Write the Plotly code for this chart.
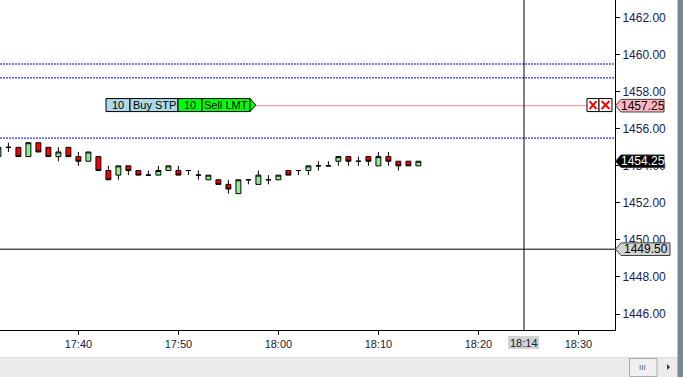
import plotly.graph_objects as go

DATE = "2013-03-20"
times = ["17:32", "17:33", "17:34", "17:35", "17:36", "17:37", "17:38", "17:39",
         "17:40", "17:41", "17:42", "17:43", "17:44", "17:45", "17:46", "17:47",
         "17:48", "17:49", "17:50", "17:51", "17:52", "17:53", "17:54", "17:55",
         "17:56", "17:57", "17:58", "17:59", "18:00", "18:01", "18:02", "18:03",
         "18:04", "18:05", "18:06", "18:07", "18:08", "18:09", "18:10", "18:11",
         "18:12", "18:13", "18:14"]
opens = [1454.5, 1455.0, 1455.0, 1454.5, 1455.25, 1455.0, 1454.5, 1455.0,
         1454.5, 1454.25, 1454.5, 1453.75, 1453.5, 1454.0, 1453.75, 1453.5,
         1453.5, 1453.75, 1453.75, 1453.75, 1453.5, 1453.25, 1453.25, 1453.0,
         1452.5, 1453.25, 1453.0, 1453.25, 1453.25, 1453.75, 1453.75, 1453.75,
         1454.0, 1454.0, 1454.25, 1454.5, 1454.25, 1454.5, 1454.0, 1454.5,
         1454.25, 1454.25, 1454.0]
highs = [1455.0, 1455.25, 1455.0, 1455.25, 1455.25, 1455.0, 1455.0, 1455.0,
         1454.75, 1454.75, 1454.5, 1454.0, 1454.0, 1454.0, 1453.75, 1453.75,
         1454.0, 1454.0, 1454.0, 1453.75, 1453.75, 1453.5, 1453.25, 1453.25,
         1453.25, 1453.25, 1453.75, 1453.5, 1453.5, 1453.75, 1453.75, 1454.0,
         1454.25, 1454.25, 1454.5, 1454.5, 1454.5, 1454.5, 1454.75, 1454.75,
         1454.25, 1454.25, 1454.25]
lows = [1454.5, 1454.75, 1454.5, 1454.5, 1454.75, 1454.5, 1454.25, 1454.5,
        1454.0, 1454.25, 1453.75, 1453.25, 1453.25, 1453.5, 1453.5, 1453.5,
        1453.5, 1453.75, 1453.5, 1453.5, 1453.25, 1453.25, 1453.0, 1452.5,
        1452.5, 1453.0, 1453.0, 1453.0, 1453.25, 1453.5, 1453.5, 1453.5,
        1453.75, 1454.0, 1454.0, 1454.0, 1454.0, 1454.0, 1454.0, 1454.0,
        1453.75, 1454.0, 1454.0]
closes = [1455.0, 1455.0, 1454.5, 1455.25, 1454.75, 1454.5, 1454.75, 1454.5,
          1454.25, 1454.75, 1453.75, 1453.25, 1454.0, 1453.75, 1453.5, 1453.5,
          1453.75, 1454.0, 1453.5, 1453.75, 1453.5, 1453.5, 1453.0, 1452.75,
          1453.25, 1453.25, 1453.5, 1453.25, 1453.5, 1453.5, 1453.75, 1454.0,
          1454.0, 1454.0, 1454.5, 1454.25, 1454.25, 1454.25, 1454.5, 1454.25,
          1454.0, 1454.0, 1454.25]

dashed_levels = [1459.50, 1458.75, 1455.50]
order_price = 1457.25
stop_price = 1449.50
last_price = closes[-1]
order_qty_buy, order_type_buy = "10", "Buy STP"
order_qty_sell, order_type_sell = "10", "Sell LMT"
cursor_label = "18:14"

X_RANGE = [f"{DATE} 17:32:09.6", f"{DATE} 18:33:39.6"]
Y_RANGE = [1445.137, 1462.956]
PLOT_W, PLOT_H = 615.0, 330.0
FONT = "Arial, Liberation Sans, sans-serif"

def px(x):
    return x / PLOT_W

def pyp(y):
    return 1 - y / PLOT_H

def dy(pixels):
    return pixels * (Y_RANGE[1] - Y_RANGE[0]) / PLOT_H

xs = [f"{DATE} {t}" for t in times]

fig = go.Figure()
fig.add_trace(go.Candlestick(
    x=xs, open=opens, high=highs, low=lows, close=closes,
    increasing=dict(line=dict(color="black", width=1), fillcolor="#90EE90"),
    decreasing=dict(line=dict(color="black", width=1), fillcolor="#FF0000"),
    whiskerwidth=0, hoverinfo="skip", showlegend=False,
))

shapes = []
annotations = []

def label(x, y, text, size=11, color="black", xref="paper", yref="y"):
    annotations.append(dict(xref=xref, yref=yref, x=x, y=y, text=text, showarrow=False,
                            xanchor="center", yanchor="middle",
                            font=dict(family=FONT, size=size, color=color)))

for lvl in dashed_levels:
    shapes.append(dict(type="line", xref="paper", yref="y", x0=0, x1=1, y0=lvl, y1=lvl,
                       line=dict(color="#0000FF", width=1, dash="2px,1px")))

# stop line
shapes.append(dict(type="line", xref="paper", yref="y", x0=0, x1=1, y0=stop_price, y1=stop_price,
                   line=dict(color="black", width=1)))
# order pink line
shapes.append(dict(type="line", xref="paper", yref="y", x0=px(256), x1=px(587),
                   y0=order_price, y1=order_price, line=dict(color="#FF9DB2", width=1.2)))
# crosshair vertical
shapes.append(dict(type="line", xref="paper", yref="paper", x0=px(524), x1=px(524), y0=0, y1=1,
                   line=dict(color="black", width=1)))

# order label boxes
oc = order_price + dy(0.6)
h = dy(6.5)
segs = [(106, 130, "#ADD8E6", order_qty_buy), (130, 178, "#ADD8E6", order_type_buy),
        (178, 202, "#00FF00", order_qty_sell), (202, 250, "#00FF00", order_type_sell)]
for x0, x1, col, txt in segs:
    shapes.append(dict(type="rect", xref="paper", yref="y", x0=px(x0), x1=px(x1),
                       y0=oc - h, y1=oc + h, fillcolor=col, line=dict(color="black", width=1)))
    label(px((x0 + x1) / 2), oc, txt, size=11)
shapes.append(dict(type="path", xref="paper", yref="y",
                   path=f"M {px(250)} {oc - h} L {px(256)} {oc} L {px(250)} {oc + h} Z",
                   fillcolor="#00FF00", line=dict(color="black", width=1)))

# X cancel boxes
for x0, x1 in [(587, 599), (599, 612)]:
    shapes.append(dict(type="rect", xref="paper", yref="y", x0=px(x0), x1=px(x1),
                       y0=oc - h, y1=oc + h, fillcolor="white", line=dict(color="black", width=1)))
    shapes.append(dict(type="line", xref="paper", yref="y", x0=px(x0 + 2.5), x1=px(x1 - 2.5),
                       y0=oc - h + dy(2.5), y1=oc + h - dy(2.5), line=dict(color="red", width=2)))
    shapes.append(dict(type="line", xref="paper", yref="y", x0=px(x0 + 2.5), x1=px(x1 - 2.5),
                       y0=oc + h - dy(2.5), y1=oc - h + dy(2.5), line=dict(color="red", width=2)))

# price tags on right axis
def price_tag(value, text, fill, fcolor, x_right=664):
    hh = dy(6.3)
    shapes.append(dict(type="path", xref="paper", yref="y",
                       path=(f"M {px(615.5)} {value} L {px(621)} {value + hh} L {px(x_right)} {value + hh} "
                             f"L {px(x_right)} {value - hh} L {px(621)} {value - hh} Z"),
                       fillcolor=fill, line=dict(color="#404040", width=1), layer="above"))
    label(px((621 + x_right) / 2 + 0.5), value, text, size=12, color=fcolor)

price_tag(order_price, f"{order_price:.2f}", "#FFB6C1", "#000000")
price_tag(last_price, f"{last_price:.2f}", "#000000", "#FFFFFF")
price_tag(stop_price, f"{stop_price:.2f}", "#D3D3D3", "#000000", x_right=670)

# cursor time label
shapes.append(dict(type="rect", xref="paper", yref="paper", x0=px(508), x1=px(539),
                   y0=pyp(349), y1=pyp(336), fillcolor="#D3D3D3", line=dict(width=0)))
label(px(523.5), pyp(342.5), cursor_label, size=11, color="#1A1A40", yref="paper")

# scrollbar + right gray strip
shapes.append(dict(type="rect", xref="paper", yref="paper", x0=px(-2), x1=px(686),
                   y0=pyp(357.5), y1=pyp(380), fillcolor="#EBEBEB", line=dict(width=0)))
shapes.append(dict(type="line", xref="paper", yref="paper", x0=px(0), x1=px(683),
                   y0=pyp(357.5), y1=pyp(357.5), line=dict(color="#DDDDDD", width=1)))
shapes.append(dict(type="rect", xref="paper", yref="paper", x0=px(629.5), x1=px(657),
                   y0=pyp(358.5), y1=pyp(376.5), fillcolor="#EFEFEF", line=dict(color="#ABABAB", width=1)))
label(px(643), pyp(367), "III", size=8, color="#555555", yref="paper")
shapes.append(dict(type="path", xref="paper", yref="paper",
                   path=f"M {px(667)} {pyp(364)} L {px(670)} {pyp(367)} L {px(667)} {pyp(370)} Z",
                   fillcolor="#333333", line=dict(width=0)))
shapes.append(dict(type="rect", xref="paper", yref="paper", x0=px(677.5), x1=px(686),
                   y0=pyp(-3), y1=pyp(380), fillcolor="#7A8694", line=dict(width=0)))

fig.update_layout(
    width=683, height=377,
    margin=dict(l=0, r=68, t=0, b=47),
    paper_bgcolor="white", plot_bgcolor="white",
    font=dict(family=FONT, size=11, color="black"),
    shapes=shapes, annotations=annotations,
    showlegend=False,
    xaxis=dict(type="date", range=X_RANGE, rangeslider=dict(visible=False),
               tickformat="%H:%M", dtick=600000, tick0=f"{DATE} 17:40",
               showgrid=False, zeroline=False, showline=True, linecolor="black", linewidth=1,
               ticks="outside", ticklen=4, tickcolor="black",
               tickfont=dict(family=FONT, size=11, color="#1A1A40")),
    yaxis=dict(side="right", range=Y_RANGE, dtick=2, tick0=1446, tickformat=".2f",
               showgrid=False, zeroline=False, showline=True, linecolor="black", linewidth=1,
               ticks="outside", ticklen=4, tickcolor="black",
               tickfont=dict(family=FONT, size=12, color="#1A1A50")),
)

fig.write_html("out.html")
